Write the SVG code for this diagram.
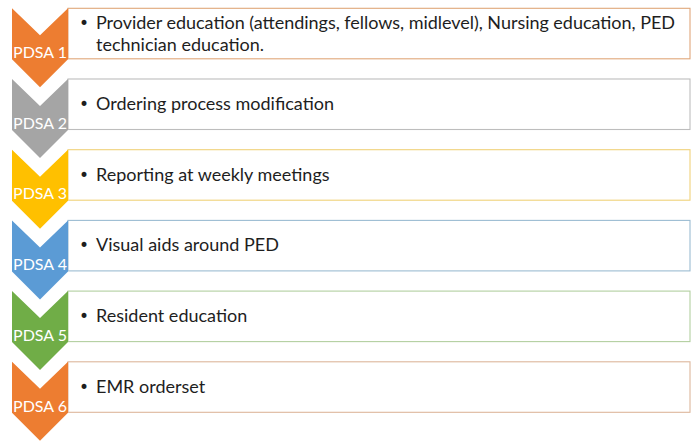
<svg xmlns="http://www.w3.org/2000/svg" width="691" height="443" viewBox="0 0 691 443">
<style>
.box{fill:#ffffff;stroke-width:1.1}
.lbl{font-family:Lato,"Open Sans",sans-serif;font-size:16px;fill:#ffffff;text-anchor:middle}
.txt{font-family:Lato,"Open Sans",sans-serif;font-size:18px;fill:#1e1e1e}
.bul{font-family:"DejaVu Sans",sans-serif;font-size:17px;fill:#1e1e1e}
</style>
<defs>
<path id="chev" d="M12,0 L40,27 L68,0 L68,51 L40,79 L12,51 Z"/>
</defs>
<rect width="691" height="443" fill="#ffffff"/>
<g id="pdsa1">
<rect class="box" x="68" y="8.3" width="622" height="50.5" stroke="#E0A77A"/>
<use href="#chev" x="0" y="8.3" fill="#ED7D31"/>
<text class="lbl" x="40" y="58">PDSA 1</text>
<text class="bul" x="79" y="29">•</text>
<text class="txt" x="96" y="29" textLength="579" lengthAdjust="spacing">Provider education (attendings, fellows, midlevel), Nursing education, PED</text>
<text class="txt" x="96" y="51">technician education.</text>
</g>
<g id="pdsa2">
<rect class="box" x="68" y="79" width="622" height="50.5" stroke="#BDBDBD"/>
<use href="#chev" x="0" y="79" fill="#A5A5A5"/>
<text class="lbl" x="40" y="128.7">PDSA 2</text>
<text class="bul" x="79" y="110">•</text>
<text class="txt" x="96" y="110">Ordering process modification</text>
</g>
<g id="pdsa3">
<rect class="box" x="68" y="149.7" width="622" height="50.5" stroke="#F0D27A"/>
<use href="#chev" x="0" y="149.7" fill="#FFC000"/>
<text class="lbl" x="40" y="199.4">PDSA 3</text>
<text class="bul" x="79" y="180.7">•</text>
<text class="txt" x="96" y="180.7">Reporting at weekly meetings</text>
</g>
<g id="pdsa4">
<rect class="box" x="68" y="220.4" width="622" height="50.5" stroke="#9CBCD2"/>
<use href="#chev" x="0" y="220.4" fill="#5B9BD5"/>
<text class="lbl" x="40" y="270.1">PDSA 4</text>
<text class="bul" x="79" y="251.4">•</text>
<text class="txt" x="96" y="251.4">Visual aids around PED</text>
</g>
<g id="pdsa5">
<rect class="box" x="68" y="291.1" width="622" height="50.5" stroke="#B3CFA0"/>
<use href="#chev" x="0" y="291.1" fill="#70AD47"/>
<text class="lbl" x="40" y="340.8">PDSA 5</text>
<text class="bul" x="79" y="322.1">•</text>
<text class="txt" x="96" y="322.1">Resident education</text>
</g>
<g id="pdsa6">
<rect class="box" x="68" y="361.8" width="622" height="50.5" stroke="#DDB79C"/>
<use href="#chev" x="0" y="361.8" fill="#ED7D31"/>
<text class="lbl" x="40" y="411.5">PDSA 6</text>
<text class="bul" x="79" y="392.8">•</text>
<text class="txt" x="96" y="392.8">EMR orderset</text>
</g>
<g id="connectors"></g>
</svg>
